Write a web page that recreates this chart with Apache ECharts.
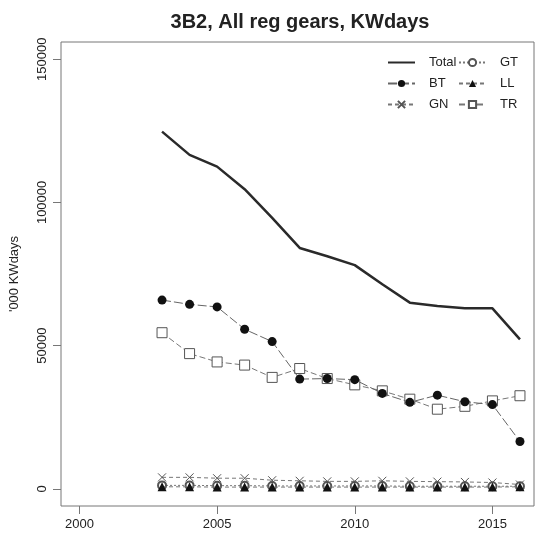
<!DOCTYPE html>
<html>
<head>
<meta charset="utf-8">
<script src="https://cdn.jsdelivr.net/npm/echarts@6/dist/echarts.min.js"></script>
<style>
  html, body { margin: 0; padding: 0; background: #fff; }
  #chart { width: 539px; height: 535px; }
</style>
</head>
<body>
<div id="chart"></div>
<script>
// Effort by gear type, '000 KW days
const years = [2003, 2004, 2005, 2006, 2007, 2008, 2009, 2010, 2011, 2012, 2013, 2014, 2015, 2016];
const total = [124700, 116600, 112500, 104600, 94600, 84100, 81200, 78100, 71400, 65000, 63800, 63000, 63000, 52200];
const bt = [65900, 64400, 63500, 55700, 51400, 38300, 38500, 38100, 33300, 30200, 32700, 30400, 29400, 16500];
const gn = [4000, 4000, 3700, 3700, 3000, 2800, 2600, 2600, 2800, 2600, 2500, 2400, 2200, 1500];
const gt = [1200, 1200, 1100, 1100, 1000, 1000, 1000, 1000, 1000, 900, 900, 900, 900, 900];
const ll = [700, 700, 600, 600, 600, 600, 600, 600, 600, 600, 600, 600, 600, 700];
const tr = [54500, 47200, 44300, 43200, 38900, 42000, 38500, 36300, 34200, 31300, 27800, 28800, 30700, 32500];
const xTicks = [2000, 2005, 2010, 2015];
const yTicks = [0, 50000, 100000, 150000];

const FONT = '"Liberation Sans", Arial, Helvetica, sans-serif';
const pairs = arr => years.map((y, i) => [y, arr[i]]);
const crossPath = 'path://M0,0L10,10M10,0L0,10';

const chart = echarts.init(document.getElementById('chart'), null, { renderer: 'canvas' });

const legendText = { fontFamily: FONT, fontSize: 13, color: '#222', padding: [0, 0, 0, 9] };
const legendBase = {
  orient: 'vertical', top: 56, padding: 0,
  itemWidth: 27, itemHeight: 9, itemGap: 8, textStyle: legendText,
  selectedMode: false
};

chart.setOption({
  animation: false,
  backgroundColor: '#fff',
  title: {
    text: '3B2, All reg gears, KWdays',
    left: 295, top: 7, textAlign: 'center',
    textStyle: { fontFamily: FONT, fontSize: 20, fontWeight: 'bold', color: '#222' }
  },
  legend: [
    Object.assign({}, legendBase, {
      left: 387,
      data: [
        { name: 'Total', itemStyle: { color: 'transparent', borderWidth: 0 } },
        'BT', 'GN'
      ]
    }),
    Object.assign({}, legendBase, { left: 458, data: ['GT', 'LL', 'TR'] })
  ],
  grid: {
    left: 56, right: 5, top: 42, bottom: 29,
    show: true, borderColor: '#777', borderWidth: 1, backgroundColor: 'transparent'
  },
  xAxis: {
    type: 'value', min: 1999.33, max: 2016.51,
    axisLine: { show: false, onZero: false },
    splitLine: { show: false },
    axisTick: { show: true, length: 8, lineStyle: { color: '#777' }, customValues: xTicks },
    axisLabel: { fontFamily: FONT, fontSize: 13, color: '#222', margin: 12, customValues: xTicks,
      formatter: v => String(v) }
  },
  yAxis: {
    type: 'value', min: -6000, max: 156000,
    name: "'000 KWdays", nameLocation: 'middle', nameGap: 40, nameRotate: 90,
    nameTextStyle: { fontFamily: FONT, fontSize: 13, color: '#222' },
    axisLine: { show: false, onZero: false },
    splitLine: { show: false },
    axisTick: { show: true, length: 8, lineStyle: { color: '#777' }, customValues: yTicks },
    axisLabel: { fontFamily: FONT, fontSize: 13, color: '#222', rotate: 90, margin: 12,
      customValues: yTicks, formatter: v => String(v) }
  },
  series: [
    {
      name: 'Total', type: 'line', data: pairs(total), symbol: 'none',
      lineStyle: { color: '#2a2a2a', width: 2.5 }, itemStyle: { color: '#2a2a2a' }, z: 5
    },
    {
      name: 'TR', type: 'line', data: pairs(tr), symbol: 'rect', symbolSize: 10,
      lineStyle: { color: '#777', width: 1, type: [6, 3] },
      itemStyle: { color: '#fff', borderColor: '#555', borderWidth: 1 }, z: 3
    },
    {
      name: 'BT', type: 'line', data: pairs(bt), symbol: 'circle', symbolSize: 9,
      lineStyle: { color: '#666', width: 1, type: [9, 3] },
      itemStyle: { color: '#111' }, z: 4
    },
    {
      name: 'GN', type: 'line', data: pairs(gn), symbol: crossPath, symbolSize: 8,
      lineStyle: { color: '#777', width: 1, type: [4, 3] },
      itemStyle: { color: 'transparent', borderColor: '#555', borderWidth: 1 }, z: 3
    },
    {
      name: 'GT', type: 'line', data: pairs(gt), symbol: 'emptyCircle', symbolSize: 8,
      lineStyle: { color: '#777', width: 1, type: [2, 2] },
      itemStyle: { color: '#555', borderColor: '#555', borderWidth: 1 }, z: 3
    },
    {
      name: 'LL', type: 'line', data: pairs(ll), symbol: 'triangle', symbolSize: 9,
      lineStyle: { color: '#777', width: 1, type: [4, 3] },
      itemStyle: { color: '#111' }, z: 4
    }
  ]
});
</script>
</body>
</html>
